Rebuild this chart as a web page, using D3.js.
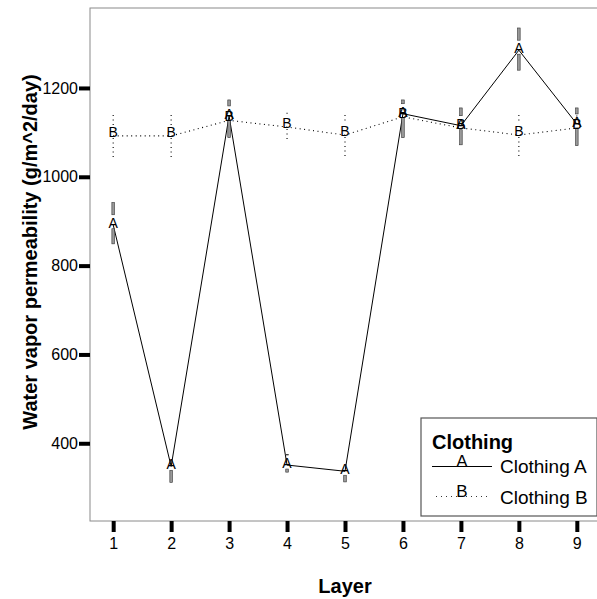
<!DOCTYPE html>
<html>
<head>
<meta charset="utf-8">
<script src="https://cdn.jsdelivr.net/npm/d3@7"></script>
<style>
  body { margin: 0; background: #fff; }
  svg { font-family: "Liberation Sans", Arial, sans-serif; }
</style>
</head>
<body>
<svg width="597" height="599"></svg>
<script>
// Layers on the x axis
const layers = [1, 2, 3, 4, 5, 6, 7, 8, 9];
// Clothing A means and error bar ends
const meanA = [892, 348, 1137, 351, 337, 1142, 1115, 1285, 1119];
const lowA  = [849, 312, 1088, 335, 313, 1088, 1072, 1240, 1070];
const highA = [942, 364, 1173, 375, 360, 1173, 1155, 1335, 1155];
// Clothing B means and error bar ends
const meanB = [1092, 1092, 1127, 1112, 1094, 1135, 1110, 1094, 1110];
const lowB  = [1043, 1043, 1100, 1079, 1043, 1105, 1085, 1043, 1082];
const highB = [1139, 1139, 1150, 1144, 1139, 1160, 1140, 1139, 1138];
const yTicks = [400, 600, 800, 1000, 1200];

const svg = d3.select("svg");
const plotL = 90, plotT = 8, plotB = 521, plotR = 600;

const x = d3.scaleLinear().domain([0.6, 9.4]).range([plotL, plotR]);
const y = d3.scaleLinear().domain([225, 1380]).range([plotB, plotT]);

// plot frame
svg.append("rect")
    .attr("x", plotL).attr("y", plotT)
    .attr("width", plotR - plotL).attr("height", plotB - plotT)
    .attr("fill", "none").attr("stroke", "#8a8a8a").attr("stroke-width", 1);

// y axis
const yAxis = svg.append("g")
    .attr("transform", `translate(${plotL},0)`)
    .call(d3.axisLeft(y).tickValues(yTicks).tickFormat(d3.format("d"))
        .tickSize(11).tickPadding(1));
yAxis.select(".domain").remove();
yAxis.selectAll("line").attr("stroke", "#000").attr("stroke-width", 4);
yAxis.selectAll("text").attr("font-size", 16).attr("fill", "#000")
    .attr("font-family", "Liberation Sans, Arial, sans-serif");

// x axis
const xAxis = svg.append("g")
    .attr("transform", `translate(0,${plotB})`)
    .call(d3.axisBottom(x).tickValues(layers).tickSize(11).tickPadding(6));
xAxis.select(".domain").remove();
xAxis.selectAll("line").attr("stroke", "#000").attr("stroke-width", 4);
xAxis.selectAll("text").attr("font-size", 16).attr("fill", "#000")
    .attr("font-family", "Liberation Sans, Arial, sans-serif");

// axis titles
svg.append("text")
    .attr("transform", `translate(37,252) rotate(-90)`)
    .attr("text-anchor", "middle")
    .attr("font-size", 20).attr("font-weight", "bold")
    .text("Water vapor permeability (g/m^2/day)");
svg.append("text")
    .attr("x", 345).attr("y", 593)
    .attr("text-anchor", "middle")
    .attr("font-size", 20).attr("font-weight", "bold")
    .text("Layer");

const line = d3.line().x(d => x(d[0])).y(d => y(d[1]));
const ptsA = layers.map((l, i) => [l, meanA[i]]);
const ptsB = layers.map((l, i) => [l, meanB[i]]);

// B: dotted line and dotted error bars with a gap at the marker
svg.append("path").datum(ptsB).attr("d", line)
    .attr("fill", "none").attr("stroke", "#000").attr("stroke-width", 1.1)
    .attr("stroke-dasharray", "1,3.5");
layers.forEach((l, i) => {
    const yc = y(meanB[i]);
    [[y(highB[i]), yc - 11], [yc + 2, y(lowB[i])]].forEach(s => {
        if (s[1] - s[0] > 0.5) {
            svg.append("line")
                .attr("x1", x(l)).attr("x2", x(l))
                .attr("y1", s[0]).attr("y2", s[1])
                .attr("stroke", "#000").attr("stroke-width", 1.1)
                .attr("stroke-dasharray", "1,3.5");
        }
    });
});

// A: solid line and boxy error bars with a gap at the marker
svg.append("path").datum(ptsA).attr("d", line)
    .attr("fill", "none").attr("stroke", "#000").attr("stroke-width", 1);
layers.forEach((l, i) => {
    const yc = y(meanA[i]);
    [[y(highA[i]), yc - 10], [yc + 4, y(lowA[i])]].forEach(s => {
        if (s[1] - s[0] > 0.5) {
            svg.append("rect")
                .attr("x", x(l) - 1.3).attr("y", s[0])
                .attr("width", 2.6).attr("height", s[1] - s[0])
                .attr("fill", "#999").attr("stroke", "#333").attr("stroke-width", 0.6);
        }
    });
});

// letter markers
svg.append("g").selectAll("text").data(ptsB).join("text")
    .attr("x", d => x(d[0])).attr("y", d => y(d[1]) + 1)
    .attr("text-anchor", "middle").attr("font-size", 14).text("B");
svg.append("g").selectAll("text").data(ptsA).join("text")
    .attr("x", d => x(d[0])).attr("y", d => y(d[1]) + 3)
    .attr("text-anchor", "middle").attr("font-size", 14).text("A");

// legend
const lg = svg.append("g");
lg.append("rect")
    .attr("x", 421).attr("y", 418).attr("width", 176).attr("height", 98)
    .attr("fill", "#fff").attr("stroke", "#555").attr("stroke-width", 1.2);
lg.append("text").attr("x", 432).attr("y", 449)
    .attr("font-size", 20).attr("font-weight", "bold").text("Clothing");
lg.append("line").attr("x1", 432).attr("x2", 492).attr("y1", 466.5).attr("y2", 466.5)
    .attr("stroke", "#000").attr("stroke-width", 1);
lg.append("text").attr("x", 462).attr("y", 467).attr("text-anchor", "middle")
    .attr("font-size", 17).text("A");
lg.append("text").attr("x", 500).attr("y", 473).attr("font-size", 19).text("Clothing A");
lg.append("line").attr("x1", 436).attr("x2", 490).attr("y1", 496.5).attr("y2", 496.5)
    .attr("stroke", "#000").attr("stroke-width", 0.8).attr("stroke-dasharray", "1,4");
lg.append("text").attr("x", 462).attr("y", 497).attr("text-anchor", "middle")
    .attr("font-size", 17).text("B");
lg.append("text").attr("x", 500).attr("y", 504).attr("font-size", 19).text("Clothing B");
</script>
</body>
</html>
